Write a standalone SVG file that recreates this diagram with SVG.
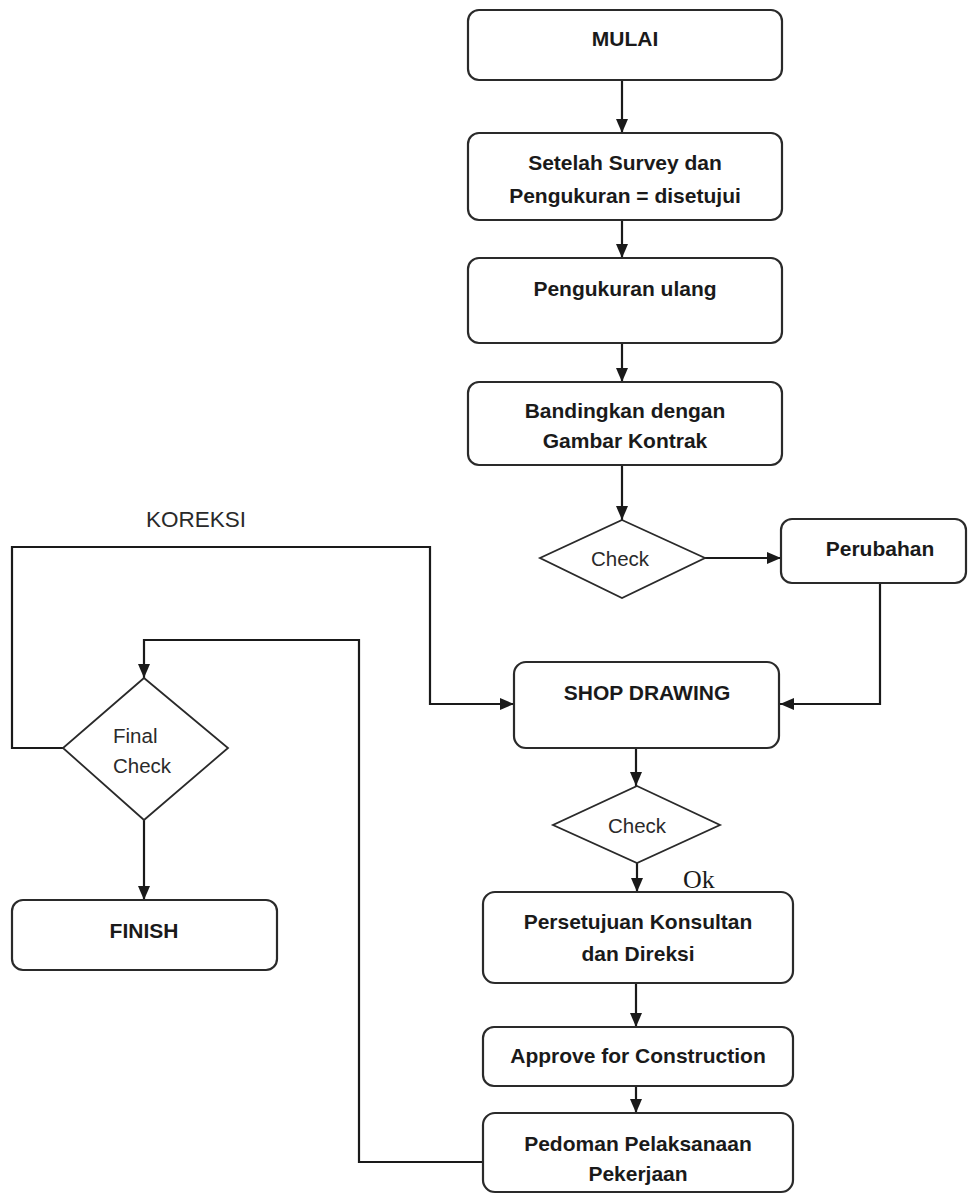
<svg xmlns="http://www.w3.org/2000/svg" width="968" height="1195" viewBox="0 0 968 1195">
<style>
.box{fill:#fff;stroke:#2a2a2a;stroke-width:2.2}
.dia{fill:#fff;stroke:#2a2a2a;stroke-width:1.8}
.b{font-family:"Liberation Sans",Arial,sans-serif;font-weight:bold;font-size:21px;fill:#1a1a1a;text-anchor:middle}
.r{font-family:"Liberation Sans",Arial,sans-serif;font-size:20.5px;fill:#2a2a2a}
.c{fill:none;stroke:#1a1a1a;stroke-width:2.2}
</style>
<defs>
<marker id="ah" viewBox="0 0 14 12" refX="14" refY="6" markerWidth="14" markerHeight="12" markerUnits="userSpaceOnUse" orient="auto">
<path d="M0,0 L14,6 L0,12 z" fill="#1a1a1a"/>
</marker>
</defs>
<rect width="968" height="1195" fill="#fff"/>
<g id="connectors">
<path class="c" d="M622,80 V133" marker-end="url(#ah)"/>
<path class="c" d="M622,220 V258" marker-end="url(#ah)"/>
<path class="c" d="M622,343 V382" marker-end="url(#ah)"/>
<path class="c" d="M622,465 V520" marker-end="url(#ah)"/>
<path class="c" d="M705,558 H781" marker-end="url(#ah)"/>
<path class="c" d="M880,583 V704 H780" marker-end="url(#ah)"/>
<path class="c" d="M63,748 H12 V547 H430 V704 H514" marker-end="url(#ah)"/>
<path class="c" d="M636,748 V786" marker-end="url(#ah)"/>
<path class="c" d="M637,863 V892" marker-end="url(#ah)"/>
<path class="c" d="M636,983 V1027" marker-end="url(#ah)"/>
<path class="c" d="M636,1086 V1113" marker-end="url(#ah)"/>
<path class="c" d="M483,1162 H359 V640 H144 V678" marker-end="url(#ah)"/>
<path class="c" d="M144,820 V900" marker-end="url(#ah)"/>
<text class="r" x="146" y="527" style="font-size:22.5px">KOREKSI</text>
<text x="683" y="888" style="font-family:'Liberation Serif','Times New Roman',serif;font-size:26px;fill:#1a1a1a">Ok</text>
</g>
<g id="mulai">
<rect class="box" x="468" y="10" width="314" height="70" rx="11"/>
<text class="b" x="625" y="46">MULAI</text>
</g>
<g id="survey">
<rect class="box" x="468" y="133" width="314" height="87" rx="11"/>
<text class="b" x="625" y="170">Setelah Survey dan</text>
<text class="b" x="625" y="203">Pengukuran = disetujui</text>
</g>
<g id="ulang">
<rect class="box" x="468" y="258" width="314" height="85" rx="11"/>
<text class="b" x="625" y="296">Pengukuran ulang</text>
</g>
<g id="bandingkan">
<rect class="box" x="468" y="382" width="314" height="83" rx="11"/>
<text class="b" x="625" y="418">Bandingkan dengan</text>
<text class="b" x="625" y="448">Gambar Kontrak</text>
</g>
<g id="check1">
<polygon class="dia" points="622,520 705,558 622,598 540,558"/>
<text class="r" x="620" y="566" text-anchor="middle">Check</text>
</g>
<g id="perubahan">
<rect class="box" x="781" y="519" width="185" height="64" rx="11"/>
<text class="b" x="880" y="556">Perubahan</text>
</g>
<g id="shop">
<rect class="box" x="514" y="662" width="265" height="86" rx="12"/>
<text class="b" x="647" y="700">SHOP DRAWING</text>
</g>
<g id="check2">
<polygon class="dia" points="637,786 720,825 637,863 553,825"/>
<text class="r" x="637" y="833" text-anchor="middle">Check</text>
</g>
<g id="persetujuan">
<rect class="box" x="483" y="892" width="310" height="91" rx="12"/>
<text class="b" x="638" y="929">Persetujuan Konsultan</text>
<text class="b" x="638" y="961">dan Direksi</text>
</g>
<g id="approve">
<rect class="box" x="483" y="1027" width="310" height="59" rx="11"/>
<text class="b" x="638" y="1063">Approve for Construction</text>
</g>
<g id="pedoman">
<rect class="box" x="483" y="1113" width="310" height="79" rx="12"/>
<text class="b" x="638" y="1151">Pedoman Pelaksanaan</text>
<text class="b" x="638" y="1181">Pekerjaan</text>
</g>
<g id="finalcheck">
<polygon class="dia" points="144,678 228,748 144,820 63,748"/>
<text class="r" x="113" y="743">Final</text>
<text class="r" x="113" y="773">Check</text>
</g>
<g id="finish">
<rect class="box" x="12" y="900" width="265" height="70" rx="11"/>
<text class="b" x="144" y="938">FINISH</text>
</g>
</svg>
